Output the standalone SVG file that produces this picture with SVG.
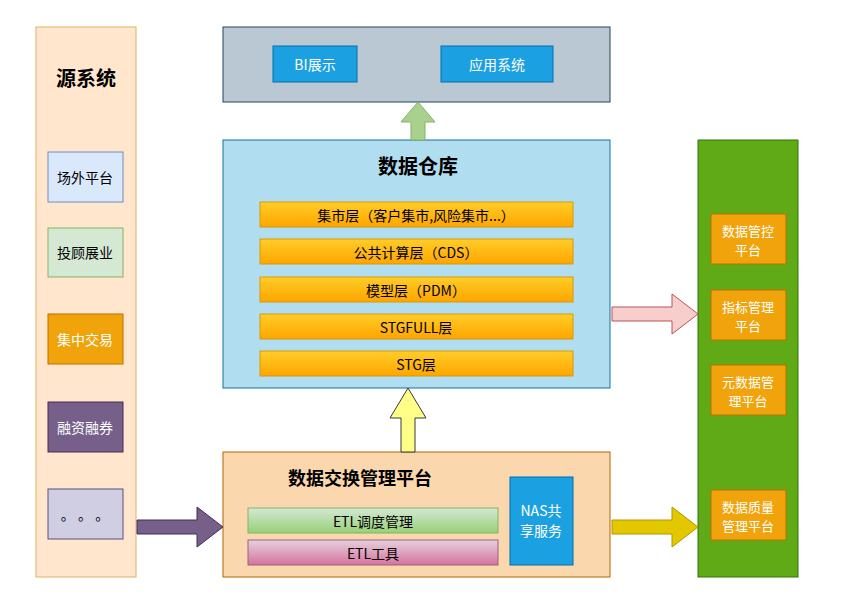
<svg xmlns="http://www.w3.org/2000/svg" width="859" height="616" viewBox="0 0 859 616">
<style>
text{font-family:"Noto Sans CJK SC","Liberation Sans",sans-serif;font-size:14px;text-anchor:middle;dominant-baseline:central}
.w{fill:#fff}
.s{font-size:13px}
.t{font-weight:bold;font-size:20px}
.or{fill:#f0a30a;stroke:#bd7000}
.ly{fill:url(#gy);stroke:#d79b00}
.bl{fill:#1ba1e2;stroke:#006eaf}
</style>
<defs>
<linearGradient id="gy" x1="0" y1="0" x2="0" y2="1"><stop offset="0" stop-color="#ffcd28"/><stop offset="1" stop-color="#ffa500"/></linearGradient>
<linearGradient id="gg" x1="0" y1="0" x2="0" y2="1"><stop offset="0" stop-color="#d5e8d4"/><stop offset="1" stop-color="#97d077"/></linearGradient>
<linearGradient id="gp" x1="0" y1="0" x2="0" y2="1"><stop offset="0" stop-color="#e6d0de"/><stop offset="1" stop-color="#d5739d"/></linearGradient>
</defs>
<rect width="859" height="616" fill="#fff"/>
<g id="src">
<rect x="36" y="27" width="100" height="550" fill="#ffe6cc" stroke="#e0b060"/>
<text x="86" y="77" class="t">源系统</text>
<rect x="48" y="152" width="75" height="50" fill="#dae8fc" stroke="#6c8ebf"/><text x="85" y="177">场外平台</text>
<rect x="48" y="228" width="75" height="49" fill="#d5e8d4" stroke="#82b366"/><text x="85" y="252">投顾展业</text>
<rect x="48" y="314" width="75" height="50" class="or"/><text x="85" y="339" class="w">集中交易</text>
<rect x="48" y="402" width="75" height="50" fill="#76608a" stroke="#432d57"/><text x="85" y="427" class="w">融资融券</text>
<rect x="48" y="489" width="75" height="50" fill="#d0cee2" stroke="#56517e"/><text x="85" y="514">。 。 。</text>
</g>
<g id="top">
<rect x="223" y="27" width="387" height="75" fill="#bac8d3" stroke="#23445d"/>
<rect x="273" y="46" width="84" height="36" class="bl"/><text x="315" y="64" class="w">BI展示</text>
<rect x="441" y="46" width="112" height="36" class="bl"/><text x="497" y="64" class="w">应用系统</text>
</g>
<g id="dw">
<rect x="223" y="140" width="387" height="248" fill="#b1ddf0" stroke="#10739e"/>
<text x="418" y="165" class="t">数据仓库</text>
<rect x="260" y="202" width="313" height="25" class="ly"/><text x="416" y="214.5">集市层（客户集市,风险集市...）</text>
<rect x="260" y="239" width="313" height="25" class="ly"/><text x="416" y="251.5">公共计算层（CDS）</text>
<rect x="260" y="277" width="313" height="25" class="ly"/><text x="416" y="289.5">模型层（PDM）</text>
<rect x="260" y="314" width="313" height="25" class="ly"/><text x="416" y="326.5">STGFULL层</text>
<rect x="260" y="351" width="313" height="25" class="ly"/><text x="416" y="363.5">STG层</text>
</g>
<g id="ex">
<rect x="223" y="452" width="387" height="125" fill="#fad7ac" stroke="#b46504"/>
<text x="360" y="477" class="t" style="font-size:18px">数据交换管理平台</text>
<rect x="248" y="508" width="250" height="25" fill="url(#gg)" stroke="#82b366"/><text x="373" y="520.5">ETL调度管理</text>
<rect x="248" y="540" width="250" height="25" fill="url(#gp)" stroke="#996185"/><text x="373" y="552.5">ETL工具</text>
<rect x="510" y="477" width="63" height="88" class="bl"/><text x="541" y="510" class="w">NAS共</text><text x="541" y="530" class="w">享服务</text>
</g>
<g id="right">
<rect x="698" y="140" width="100" height="437" fill="#60a917" stroke="#2d7600"/>
<rect x="711" y="214" width="75" height="50" class="or"/><text x="748" y="230" class="w s">数据管控</text><text x="748" y="249" class="w s">平台</text>
<rect x="711" y="290" width="75" height="50" class="or"/><text x="748" y="306" class="w s">指标管理</text><text x="748" y="325" class="w s">平台</text>
<rect x="711" y="365" width="75" height="50" class="or"/><text x="748" y="381" class="w s">元数据管</text><text x="748" y="400" class="w s">理平台</text>
<rect x="711" y="490" width="75" height="50" class="or"/><text x="748" y="506" class="w s">数据质量</text><text x="748" y="525" class="w s">管理平台</text>
</g>
<g id="connectors">
<path d="M411 140V122H401L418 102L435 122H425V140Z" fill="#a9d18e" stroke="#82b366"/>
<path d="M401 452V418H390L408 388L426 418H415V452Z" fill="#ffff88" stroke="#36393d"/>
<path d="M612 307H672V294L698 314L672 334V321H612Z" fill="#f8cecc" stroke="#b85450"/>
<path d="M612 520H672V507L698 527L672 547V534H612Z" fill="#e3c800" stroke="#b09500"/>
<path d="M137 520H197V507L223 527L197 547V534H137Z" fill="#76608a" stroke="#432d57"/>
</g>
</svg>
